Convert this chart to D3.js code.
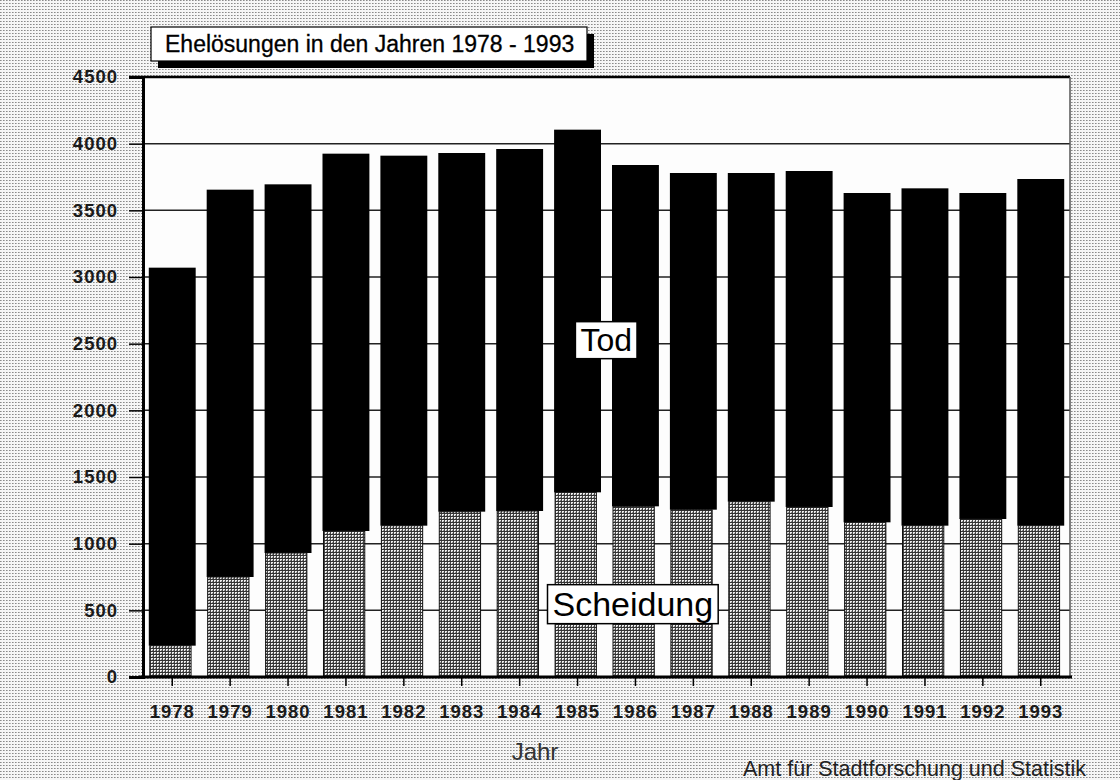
<!DOCTYPE html>
<html lang="de">
<head>
<meta charset="UTF-8">
<title>Ehelösungen 1978 - 1993</title>
<script src="https://d3js.org/d3.v7.min.js"></script>
<style>
    * { margin: 0; padding: 0; box-sizing: border-box; }
    html, body { width: 1120px; height: 780px; overflow: hidden; background: #fff; }
    svg { display: block; font-family: "Liberation Sans", Arial, sans-serif; }
    .tick-label { font-size: 18.5px; font-weight: bold; fill: #1a1a1a; letter-spacing: 1px; }
</style>
</head>
<body>
<svg id="chart" width="1120" height="780"></svg>
<script>
    // Data
    const years = ["1978", "1979", "1980", "1981", "1982", "1983", "1984", "1985",
                   "1986", "1987", "1988", "1989", "1990", "1991", "1992", "1993"];
    const scheidung = [235, 750, 930, 1095, 1135, 1240, 1245, 1385,
                       1280, 1255, 1315, 1275, 1160, 1135, 1185, 1135];
    const tod = [2835, 2905, 2765, 2830, 2775, 2690, 2715, 2720,
                 2560, 2525, 2465, 2520, 2470, 2530, 2445, 2600];
    const yTicks = [0, 500, 1000, 1500, 2000, 2500, 3000, 3500, 4000, 4500];
    const xTickLabels = ["1978", "1979", "1980", "1981", "1982", "1983", "1984", "1985",
                         "1986", "1987", "1988", "1989", "1990", "1991", "1992", "1993"];

    const svg = d3.select("#chart");
    const margin = { top: 77, right: 50, bottom: 103, left: 143 };
    const width = 1120, height = 780;
    const plotW = width - margin.left - margin.right;
    const plotH = height - margin.top - margin.bottom;

    // dither-like textures (scanned print look)
    const defs = svg.append("defs");
    const bg = defs.append("pattern").attr("id", "bgdots")
        .attr("width", 3).attr("height", 3).attr("patternUnits", "userSpaceOnUse");
    bg.append("rect").attr("width", 3).attr("height", 3).attr("fill", "#f6f6f6");
    bg.append("rect").attr("x", 0).attr("y", 0).attr("width", 1).attr("height", 1).attr("fill", "#8a8a8a");
    bg.append("rect").attr("x", 1).attr("y", 0).attr("width", 1).attr("height", 1).attr("fill", "#b5b5b5");

    const hatch = defs.append("pattern").attr("id", "scheidungFill")
        .attr("width", 3).attr("height", 3).attr("patternUnits", "userSpaceOnUse");
    hatch.append("rect").attr("width", 3).attr("height", 3).attr("fill", "#eeeeee");
    hatch.append("rect").attr("x", 0).attr("y", 0).attr("width", 3).attr("height", 1).attr("fill", "#333");
    hatch.append("rect").attr("x", 0).attr("y", 1).attr("width", 1).attr("height", 2).attr("fill", "#444");
    hatch.append("rect").attr("x", 2).attr("y", 2).attr("width", 1).attr("height", 1).attr("fill", "#888");

    svg.append("rect").attr("width", width).attr("height", height).attr("fill", "url(#bgdots)");

    const x = d3.scaleBand()
        .domain(years)
        .range([margin.left, margin.left + plotW])
        .paddingInner(0.19)
        .paddingOuter(0.1);

    const y = d3.scaleLinear()
        .domain([0, 4500])
        .range([margin.top + plotH, margin.top]);

    // plot area
    svg.append("rect")
        .attr("x", margin.left).attr("y", margin.top)
        .attr("width", plotW).attr("height", plotH)
        .attr("fill", "#fdfdfd");

    // grid lines
    svg.append("g")
        .selectAll("line")
        .data(yTicks.filter(d => d > 0 && d < 4500))
        .join("line")
        .attr("x1", margin.left).attr("x2", margin.left + plotW)
        .attr("y1", d => y(d)).attr("y2", d => y(d))
        .attr("stroke", "#222").attr("stroke-width", 1.5);

    // Tod bars (stacked on top of Scheidung)
    svg.append("g")
        .selectAll("rect")
        .data(years)
        .join("rect")
        .attr("x", d => x(d))
        .attr("width", x.bandwidth())
        .attr("y", (d, i) => y(scheidung[i] + tod[i]))
        .attr("height", (d, i) => y(scheidung[i]) - y(scheidung[i] + tod[i]))
        .attr("fill", "#000");

    // Scheidung bars, slightly narrower
    svg.append("g")
        .selectAll("rect")
        .data(years)
        .join("rect")
        .attr("x", d => x(d) + 1)
        .attr("width", x.bandwidth() * 0.88)
        .attr("y", (d, i) => y(scheidung[i]))
        .attr("height", (d, i) => y(0) - y(scheidung[i]))
        .attr("fill", "url(#scheidungFill)")
        .attr("stroke", "#111").attr("stroke-width", 1);

    // frame: top, right
    svg.append("line")
        .attr("x1", margin.left - 14).attr("x2", margin.left + plotW)
        .attr("y1", y(4500)).attr("y2", y(4500))
        .attr("stroke", "#000").attr("stroke-width", 2.5);
    svg.append("line")
        .attr("x1", margin.left + plotW).attr("x2", margin.left + plotW)
        .attr("y1", margin.top).attr("y2", margin.top + plotH)
        .attr("stroke", "#555").attr("stroke-width", 1.5);

    const yAxis = svg.append("g")
        .attr("transform", `translate(${margin.left},0)`)
        .call(d3.axisLeft(y).tickValues(yTicks).tickFormat(d3.format("d")).tickSize(14).tickPadding(11));
    yAxis.select(".domain").attr("stroke", "#000").attr("stroke-width", 3);
    yAxis.selectAll(".tick line").attr("stroke", "#000").attr("stroke-width", 1.5);
    yAxis.selectAll("text").attr("class", "tick-label").attr("font-family", null).attr("font-size", null);

    const xAxis = svg.append("g")
        .attr("transform", `translate(0,${margin.top + plotH})`)
        .call(d3.axisBottom(x).tickFormat((d, i) => xTickLabels[i]).tickSize(9).tickPadding(19).tickSizeOuter(0));
    xAxis.select(".domain").attr("stroke", "#000").attr("stroke-width", 3)
        .attr("d", `M${margin.left - 4},0H${margin.left + plotW + 2}`);
    xAxis.selectAll(".tick line").attr("stroke", "#000").attr("stroke-width", 1.5);
    xAxis.selectAll("text").attr("class", "tick-label").attr("font-family", null).attr("font-size", null);

    // labelled boxes inside the plot
    function boxLabel(cx, cy, text, size) {
        const g = svg.append("g");
        const t = g.append("text")
            .attr("x", cx).attr("y", cy)
            .attr("text-anchor", "middle").attr("dominant-baseline", "central")
            .attr("font-size", size).attr("fill", "#000")
            .text(text);
        const b = t.node().getBBox();
        g.insert("rect", "text")
            .attr("x", b.x - 5).attr("y", b.y)
            .attr("width", b.width + 10).attr("height", b.height + 1)
            .attr("fill", "#fff").attr("stroke", "#000").attr("stroke-width", 1.5);
    }
    boxLabel(x("1986") - x.step() * 0.1, y(2530), "Tod", 32);
    boxLabel(x("1986") + x.step() * 0.36, y(550), "Scheidung", 34);

    // title with drop shadow
    const title = svg.append("g");
    title.append("rect").attr("x", 158).attr("y", 34).attr("width", 436).attr("height", 34).attr("fill", "#000");
    title.append("rect").attr("x", 151).attr("y", 27).attr("width", 436).attr("height", 34)
        .attr("fill", "#fff").attr("stroke", "#000").attr("stroke-width", 1.2);
    title.append("text").attr("x", 165).attr("y", 52)
        .attr("font-size", 23).attr("fill", "#000").attr("stroke", "#000").attr("stroke-width", 0.3)
        .text("Ehelösungen in den Jahren 1978 - 1993");

    // axis title and source
    svg.append("text").attr("x", 535).attr("y", 760)
        .attr("text-anchor", "middle").attr("font-size", 24).attr("fill", "#333")
        .text("Jahr");
    svg.append("text").attr("x", 1086).attr("y", 776)
        .attr("text-anchor", "end").attr("font-size", 21.5).attr("fill", "#222")
        .text("Amt für Stadtforschung und Statistik");
</script>
</body>
</html>
